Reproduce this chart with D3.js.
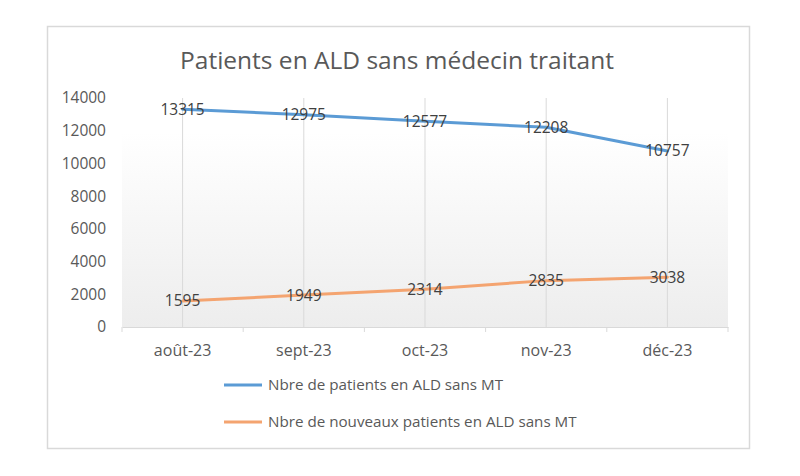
<!DOCTYPE html>
<html><head><meta charset="utf-8">
<script src="https://cdn.jsdelivr.net/npm/d3@7"></script>
<style>body{margin:0;background:#fff}svg{display:block}</style>
</head><body>
<svg id="c" width="800" height="476"></svg>
<script>
const categories = ["août-23","sept-23","oct-23","nov-23","déc-23"];
const seriesNames = ["Nbre de patients en ALD sans MT","Nbre de nouveaux patients en ALD sans MT"];
const patientsALD = [13315,12975,12577,12208,10757];
const nouveauxALD = [1595,1949,2314,2835,3038];
const yTicks = [0,2000,4000,6000,8000,10000,12000,14000];
const colors = ["#5b9bd5","#f4a470"];

const svg = d3.select("#c");
const font = "'Open Sans', sans-serif";
const L = 122, R = 728, T = 98, B = 327;

svg.append("rect").attr("x",47.5).attr("y",26.5).attr("width",702).attr("height",422)
  .attr("fill","#fff").attr("stroke","#d9d9d9").attr("stroke-width",1.5);

const defs = svg.append("defs");
const g = defs.append("linearGradient").attr("id","bg").attr("x1",0).attr("y1",0).attr("x2",0).attr("y2",1);
g.append("stop").attr("offset","0").attr("stop-color","#ffffff");
g.append("stop").attr("offset","0.15").attr("stop-color","#ffffff");
g.append("stop").attr("offset","1").attr("stop-color","#ededed");

svg.append("text").attr("x",397).attr("y",69).attr("text-anchor","middle")
  .attr("font-family",font).attr("font-size",24.5).attr("fill","#595959")
  .text("Patients en ALD sans médecin traitant");

const x = d3.scaleBand().domain(categories).range([L,R]);
const y = d3.scaleLinear().domain([0,14000]).range([B,T]);

svg.append("rect").attr("x",L).attr("y",T).attr("width",R-L).attr("height",B-T).attr("fill","url(#bg)");

svg.append("g").selectAll("line").data(categories).join("line")
  .attr("x1",d=>x(d)+x.bandwidth()/2).attr("x2",d=>x(d)+x.bandwidth()/2)
  .attr("y1",T).attr("y2",B).attr("stroke","#d9d9d9").attr("stroke-width",1);

const ya = svg.append("g").attr("transform",`translate(${L},0)`)
  .call(d3.axisLeft(y).tickValues(yTicks).tickSize(0).tickPadding(16).tickFormat(d3.format("d")));
ya.select(".domain").remove();
ya.selectAll("text").attr("font-family",font).attr("font-size",15.5).attr("fill","#595959");

const xa = svg.append("g").attr("transform",`translate(0,${B})`)
  .call(d3.axisBottom(x).tickSize(0).tickPadding(18));
xa.select(".domain").attr("stroke","#d9d9d9");
xa.selectAll("text").attr("font-family",font).attr("font-size",16).attr("fill","#595959");
const bounds = categories.map(c=>x(c)).concat([R]);
xa.selectAll(".bt").data(bounds).join("line").attr("class","bt")
  .attr("x1",d=>d).attr("x2",d=>d).attr("y1",0).attr("y2",5).attr("stroke","#d9d9d9");

const line = d3.line().x((d,i)=>x(categories[i])+x.bandwidth()/2).y(d=>y(d));
[patientsALD,nouveauxALD].forEach((s,k)=>{
  svg.append("path").datum(s).attr("d",line).attr("fill","none")
    .attr("stroke",colors[k]).attr("stroke-width",3).attr("stroke-linecap","round").attr("stroke-linejoin","round");
});
[patientsALD,nouveauxALD].forEach((s,k)=>{
  svg.append("g").selectAll("text").data(s).join("text")
    .attr("x",(d,i)=>x(categories[i])+x.bandwidth()/2).attr("y",d=>y(d))
    .attr("dy","0.35em").attr("text-anchor","middle")
    .attr("font-family",font).attr("font-size",15.5).attr("fill","#404040")
    .text(d=>d);
});

const leg = svg.append("g");
seriesNames.forEach((n,k)=>{
  const ly = 385 + k*37;
  leg.append("line").attr("x1",224).attr("x2",262).attr("y1",ly).attr("y2",ly)
    .attr("stroke",colors[k]).attr("stroke-width",3);
  leg.append("text").attr("x",268).attr("y",ly).attr("dy","0.35em")
    .attr("font-family",font).attr("font-size",15.2).attr("fill","#595959").text(n);
});
</script>
</body></html>
